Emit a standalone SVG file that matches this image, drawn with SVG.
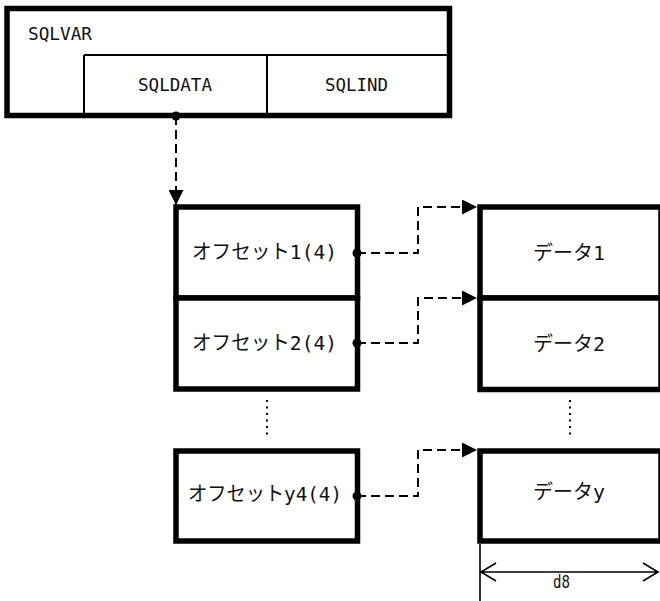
<svg xmlns="http://www.w3.org/2000/svg" width="660" height="601" viewBox="0 0 660 601">
<style>
.box{fill:#fff;stroke:#000;stroke-width:5.5}
.thin{fill:none;stroke:#000;stroke-width:2}
.t{font-family:"DejaVu Sans Mono","Noto Sans CJK JP",monospace;font-size:18.5px;fill:#111}
.j{font-size:20px}
.dash{fill:none;stroke:#000;stroke-width:2;stroke-dasharray:9 5}
.dots{fill:none;stroke:#000;stroke-width:2;stroke-dasharray:2 4.5}
.dim{fill:none;stroke:#000;stroke-width:1.6}
</style>
<defs>
<marker id="arr" viewBox="0 0 15 15" refX="15" refY="7.5" markerWidth="15" markerHeight="15" markerUnits="userSpaceOnUse" orient="auto">
<path d="M0,0 L15,7.5 L0,15 z" fill="#000"/>
</marker>
</defs>
<g id="sqlvar">
<rect class="box" x="7" y="8.5" width="442.5" height="107"/>
<path class="thin" d="M84,55 H447 M84,55 V113 M267,55 V113"/>
<text class="t" x="28" y="40" textLength="64" lengthAdjust="spacingAndGlyphs">SQLVAR</text>
<text class="t" x="138" y="91" textLength="74" lengthAdjust="spacingAndGlyphs">SQLDATA</text>
<text class="t" x="325" y="91" textLength="63" lengthAdjust="spacingAndGlyphs">SQLIND</text>
</g>
<g id="offset1">
<rect class="box" x="176" y="207" width="181.5" height="91"/>
<text class="t j" x="192" y="259" textLength="145" lengthAdjust="spacingAndGlyphs">オフセット1(4)</text>
</g>
<g id="offset2">
<rect class="box" x="176" y="298" width="181.5" height="91"/>
<text class="t j" x="192" y="350" textLength="145" lengthAdjust="spacingAndGlyphs">オフセット2(4)</text>
</g>
<g id="offsety4">
<rect class="box" x="176" y="451" width="181.5" height="90"/>
<text class="t j" x="188" y="501" textLength="154" lengthAdjust="spacingAndGlyphs">オフセットy4(4)</text>
</g>
<g id="data1">
<rect class="box" x="480" y="207" width="181" height="91"/>
<text class="t j" x="533" y="260" textLength="72" lengthAdjust="spacingAndGlyphs">データ1</text>
</g>
<g id="data2">
<rect class="box" x="480" y="298" width="181" height="91.5"/>
<text class="t j" x="533" y="351" textLength="72" lengthAdjust="spacingAndGlyphs">データ2</text>
</g>
<g id="datay">
<rect class="box" x="480" y="451" width="181" height="90"/>
<text class="t j" x="533" y="499" textLength="72" lengthAdjust="spacingAndGlyphs">データy</text>
</g>
<g id="ellipses">
<path class="dots" d="M267,400 V438"/>
<path class="dots" d="M570,400 V438"/>
</g>
<g id="connectors">
<path class="dash" d="M176,116 V205" marker-end="url(#arr)"/>
<circle cx="176" cy="116" r="4.5"/>
<path class="dash" d="M357,253 H418 V207 H477" marker-end="url(#arr)"/>
<circle cx="357" cy="253" r="4.5"/>
<path class="dash" d="M357,343 H418 V298 H477" marker-end="url(#arr)"/>
<circle cx="357" cy="343" r="4.5"/>
<path class="dash" d="M357,496 H418 V450 H477" marker-end="url(#arr)"/>
<circle cx="357" cy="496" r="4.5"/>
</g>
<g id="dimension">
<path class="dim" d="M480,544 V601 M481,572 H658 M496,563 L481,572 L496,581 M643,563 L658,572 L643,581"/>
<text class="t" x="553" y="588" textLength="17" lengthAdjust="spacingAndGlyphs">d8</text>
</g>
</svg>
